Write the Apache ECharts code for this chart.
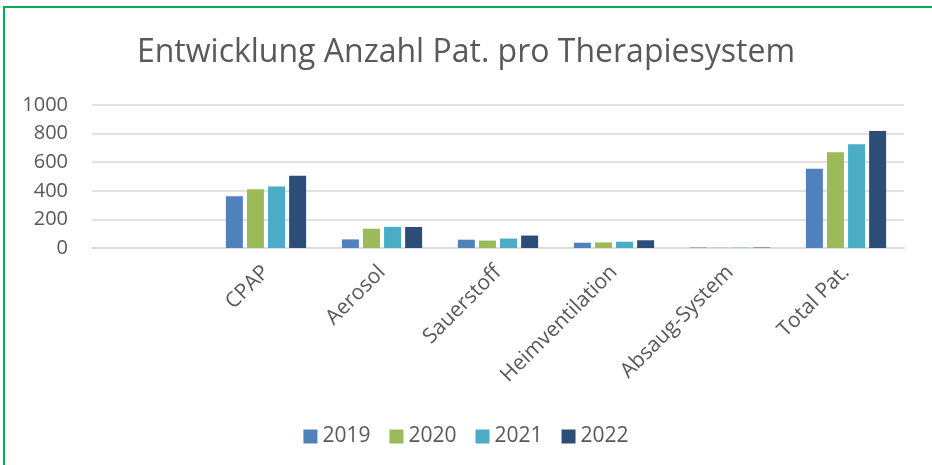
<!DOCTYPE html>
<html>
<head>
<meta charset="utf-8">
<script src="https://cdn.jsdelivr.net/npm/echarts@6/dist/echarts.min.js"></script>
<style>
  html, body { margin: 0; padding: 0; background: #fff; overflow: hidden; }
  #frame { position: absolute; left: 3px; top: 6px; width: 960px; height: 500px; border: 2px solid #00B050; box-sizing: border-box; }
  #chart { position: absolute; left: 0; top: 0; width: 932px; height: 465px; }
</style>
</head>
<body>
<div id="frame"></div>
<div id="chart"></div>
<script>
var categories = ['', 'CPAP', 'Aerosol', 'Sauerstoff', 'Heimventilation', 'Absaug-System', 'Total Pat.'];
var years = ['2019', '2020', '2021', '2022'];
var v2019 = [null, 362, 60, 58, 37, 3, 555];
var v2020 = [null, 411, 135, 52, 39, 2, 670];
var v2021 = [null, 430, 148, 66, 44, 2, 725];
var v2022 = [null, 506, 147, 87, 54, 3, 819];
var colors = ['#4F81BD', '#9BBB59', '#4BACC6', '#2C4D75'];

var chart = echarts.init(document.getElementById('chart'));
var values = [v2019, v2020, v2021, v2022];
var series = years.map(function (y, i) {
    return {
        name: y,
        type: 'bar',
        data: values[i],
        barWidth: 17,
        barGap: '24%',
        itemStyle: { color: colors[i] }
    };
});

var option = {
    animation: false,
    textStyle: { fontFamily: 'Open Sans' },
    title: {
        text: 'Entwicklung Anzahl Pat. pro Therapiesystem',
        left: 'center',
        top: 32,
        textStyle: { fontFamily: 'Open Sans', fontSize: 32, fontWeight: 'normal', color: '#595959' }
    },
    color: colors,
    legend: {
        data: years,
        bottom: 13,
        left: 'center',
        itemWidth: 14,
        itemHeight: 14,
        itemGap: 19,
        icon: 'rect',
        textStyle: { fontSize: 21, color: '#595959' }
    },
    grid: { left: 92, right: 28, top: 105, bottom: 217, containLabel: false },
    xAxis: {
        type: 'category',
        data: categories,
        axisLine: { lineStyle: { color: '#D9D9D9', width: 1.5 } },
        axisTick: { show: false },
        axisLabel: { rotate: 45, interval: 0, fontSize: 21, color: '#595959', margin: 21 }
    },
    yAxis: {
        type: 'value',
        min: 0,
        max: 1000,
        interval: 200,
        axisLine: { show: false },
        axisTick: { show: false },
        axisLabel: {
            fontSize: 20, color: '#595959', margin: 24,
            formatter: function (v) { return String(v); }
        },
        splitLine: { lineStyle: { color: '#D9D9D9', width: 1.5 } }
    },
    series: series
};
chart.setOption(option);
</script>
</body>
</html>
